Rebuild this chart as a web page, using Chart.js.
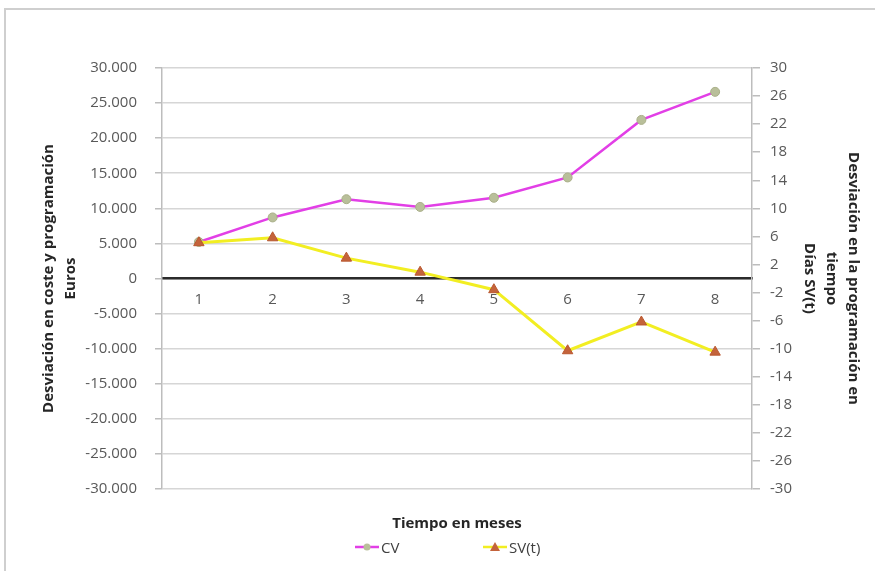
<html><head><title>CV y SV(t)</title>
<script src="https://cdn.jsdelivr.net/npm/chart.js"></script>
<style>
  body {
    margin: 0;
    background: #ffffff;
    font-family: 'Open Sans', Arial, sans-serif;
    overflow: hidden;
  }
  #frame {
    position: absolute;
    left: 4px;
    top: 8px;
    width: 900px;
    height: 600px;
    border-top: 2px solid #cfcfcf;
    border-left: 2px solid #cfcfcf;
  }
  #wrap {
    position: absolute;
    left: 0;
    top: 0;
    width: 875px;
    height: 571px;
  }
  .leg {
    position: absolute;
    top: 537px;
    font-size: 15px;
    color: #404040;
    line-height: 20px;
    white-space: nowrap;
  }
  .leg canvas {
    vertical-align: middle;
    margin-right: 2px;
    margin-top: -3px;
  }
</style>
</head>
<body>
<div id="frame"></div>
<div id="wrap">
  <canvas id="chart" width="875" height="571"></canvas>
</div>
<div class="leg" style="left:355px"><canvas id="legCV" width="24" height="12"></canvas>CV</div>
<div class="leg" style="left:483px"><canvas id="legSV" width="24" height="12"></canvas>SV(t)</div>

<script>
// data
const months = ['1', '2', '3', '4', '5', '6', '7', '8'];
const cvValues = [5200, 8700, 11300, 10200, 11500, 14400, 22600, 26600];   // euros, left axis
const svValues = [5.1, 5.8, 2.9, 0.9, -1.6, -10.3, -6.2, -10.5];          // days, right axis

const cvColor = '#e23fe6';
const cvPoint = '#b9bf9a';
const svColor = '#f2ee22';
const svPoint = '#c4633b';
const gridGrey = '#d6d6d6';
const tickGrey = '#595959';
const titleGrey = '#262626';

function euros(v) {
  // 30000 -> 30.000
  const s = Math.abs(v).toString().replace(/\B(?=(\d{3})+(?!\d))/g, '.');
  return (v < 0 ? '-' : '') + s;
}

const tickFont = { family: "'Open Sans', sans-serif", size: 15 };
const titleFont = { family: "'Open Sans', sans-serif", size: 15, weight: 'bold', lineHeight: 1.47 };

new Chart(document.getElementById('chart'), {
  type: 'line',
  data: {
    labels: months,
    datasets: [
      {
        label: 'CV',
        data: cvValues,
        yAxisID: 'y',
        order: 1,
        borderColor: cvColor,
        borderWidth: 2.5,
        pointStyle: 'circle',
        pointRadius: 4.5,
        pointBackgroundColor: cvPoint,
        pointBorderColor: '#a9af88',
        pointBorderWidth: 1,
        tension: 0
      },
      {
        label: 'SV(t)',
        data: svValues,
        yAxisID: 'y1',
        order: 0,
        borderColor: svColor,
        borderWidth: 3,
        pointStyle: 'triangle',
        pointRadius: 6,
        pointBackgroundColor: svPoint,
        pointBorderColor: '#b9582f',
        pointBorderWidth: 1,
        tension: 0
      }
    ]
  },
  options: {
    responsive: false,
    animation: false,
    layout: { padding: { left: 0, right: 0, top: 68, bottom: 36 } },
    plugins: {
      legend: { display: false },
      tooltip: { enabled: false },
      title: {
        display: true,
        position: 'bottom',
        fullSize: false,
        text: 'Tiempo en meses',
        color: titleGrey,
        font: titleFont,
        padding: { top: 24, bottom: 0 }
      }
    },
    scales: {
      x: {
        type: 'category',
        position: { y: 0 },
        offset: true,
        grid: { display: false, drawTicks: false },
        border: { display: true, color: '#2b2b2b', width: 2.5 },
        ticks: { color: tickGrey, font: tickFont, padding: 12, maxRotation: 0 }
      },
      y: {
        position: 'left',
        min: -30000,
        max: 30000,
        afterFit: (scale) => { scale.width = 162; },
        ticks: { stepSize: 5000, color: tickGrey, font: tickFont, padding: 18, callback: (v) => euros(v) },
        grid: { color: gridGrey, lineWidth: 1.5, tickLength: 7, tickColor: '#bdbdbd' },
        border: { color: '#bdbdbd', width: 1.5 },
        title: {
          display: true,
          text: ['Desviación en coste y programación', 'Euros'],
          color: titleGrey,
          font: titleFont,
          padding: { top: 38, bottom: 0 }
        }
      },
      y1: {
        position: 'right',
        min: -30,
        max: 30,
        afterFit: (scale) => { scale.width = 123; },
        ticks: { stepSize: 4, color: tickGrey, font: tickFont, padding: 10 },
        grid: { drawOnChartArea: false, tickLength: 8, tickColor: '#bdbdbd', lineWidth: 1.5 },
        border: { color: '#bdbdbd', width: 1.5 },
        title: {
          display: true,
          text: ['Desviación en la programación en', 'tiempo', 'Días SV(t)'],
          color: titleGrey,
          font: titleFont,
          padding: { top: 11, bottom: 0 }
        }
      }
    }
  }
});

// legend icons: short line with the series marker in the middle
function legendIcon(id, color, fill, shape) {
  const c = document.getElementById(id).getContext('2d');
  c.strokeStyle = color;
  c.lineWidth = 2.5;
  c.beginPath();
  c.moveTo(0, 6);
  c.lineTo(24, 6);
  c.stroke();
  c.fillStyle = fill;
  c.beginPath();
  if (shape === 'circle') {
    c.arc(12, 6, 3.5, 0, Math.PI * 2);
  } else {
    c.moveTo(12, 1);
    c.lineTo(17, 10);
    c.lineTo(7, 10);
    c.closePath();
  }
  c.fill();
}
legendIcon('legCV', cvColor, cvPoint, 'circle');
legendIcon('legSV', svColor, svPoint, 'triangle');
</script>
</body></html>
